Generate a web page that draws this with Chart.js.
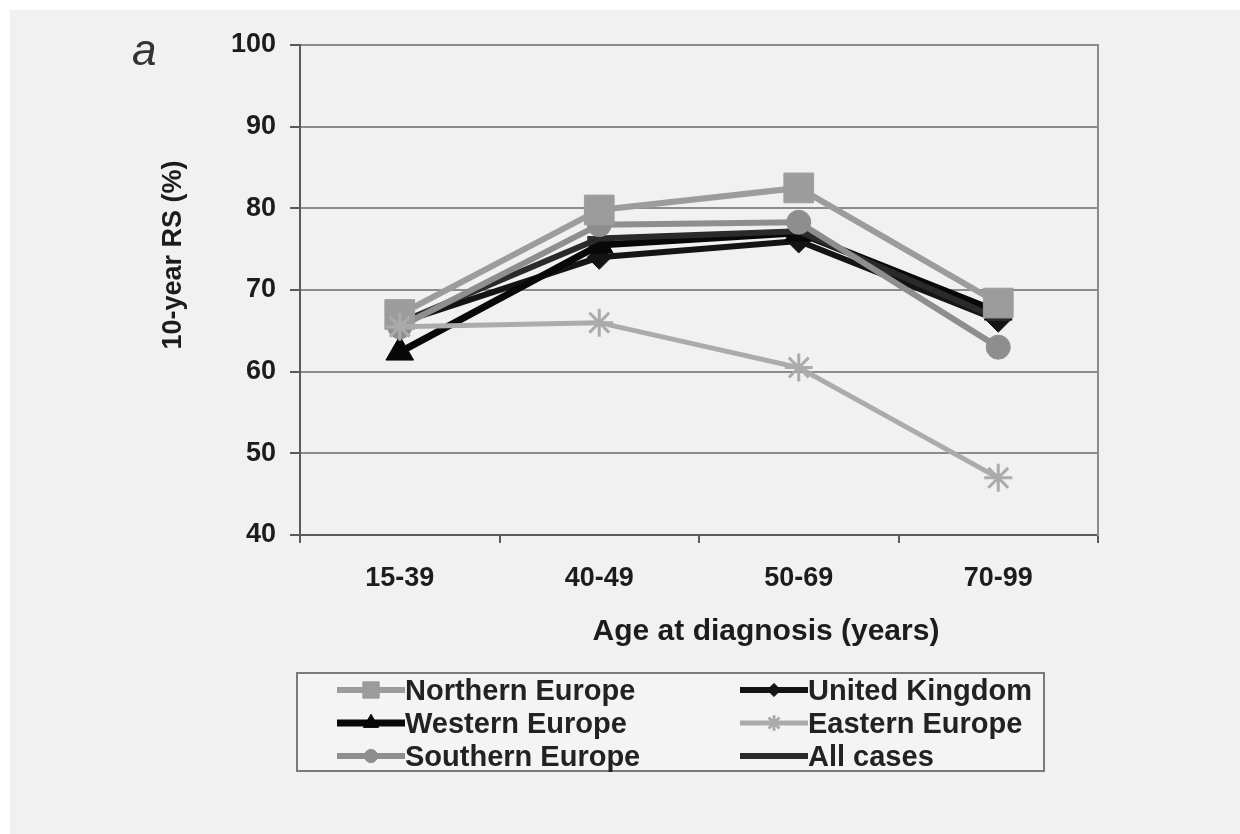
<!DOCTYPE html>
<html>
<head>
<meta charset="utf-8">
<script src="https://cdn.jsdelivr.net/npm/chart.js@4.4.1/dist/chart.umd.min.js"></script>
<style>
  body { margin:0; width:1240px; height:834px; overflow:hidden; position:relative; background:#fff;
         font-family:"Liberation Sans", Arial, sans-serif; }
  #panel { position:absolute; left:10px; top:10px; right:0; bottom:0; background:#f1f1f1; }
  #grafico { position:absolute; left:0; top:0; }
  .lbl { position:absolute; color:#1c1c1c; white-space:nowrap; }
  #panelA { left:132px; top:28px; font-size:44px; font-style:italic; line-height:44px; color:#333; }
  #ytitle { left:22px; top:238px; width:300px; height:34px; line-height:34px; text-align:center;
            font-size:27px; font-weight:bold; transform:rotate(-90deg); }
  #xtitle { left:466px; top:612px; width:600px; height:36px; line-height:36px; text-align:center;
            font-size:30px; font-weight:bold; }
  #legend { position:absolute; left:296px; top:672px; width:749px; height:100px; box-sizing:border-box;
            border:2px solid #7a7a7a; background:#f4f4f4; }
  .item { position:absolute; height:32px; }
  .item canvas { position:absolute; left:0; top:0; }
  .item span { position:absolute; left:70px; top:0; line-height:32px; font-size:29px; font-weight:bold; color:#222; white-space:nowrap; }
</style>
</head>
<body>
<div id="panel"></div>
<canvas id="grafico" width="1240" height="660"></canvas>
<div class="lbl" id="panelA">a</div>
<div class="lbl" id="ytitle">10-year RS (%)</div>
<div class="lbl" id="xtitle">Age at diagnosis (years)</div>
<div id="legend"></div>
<script>
// data
const ageGroups = ['15-39', '40-49', '50-69', '70-99'];
const northernEurope = [67.0, 79.8, 82.5, 68.4];
const westernEurope  = [62.4, 75.5, 77.0, 67.3];
const southernEurope = [65.5, 78.0, 78.3, 63.0];
const unitedKingdom  = [66.0, 74.0, 76.0, 66.3];
const easternEurope  = [65.5, 66.0, 60.5, 47.0];
const allCases       = [66.0, 76.3, 77.2, 66.5];
const yTicks = [40, 50, 60, 70, 80, 90, 100];

const tickFont = { family: '"Liberation Sans", Arial, sans-serif', size: 27, weight: 'bold' };

function serie(label, data, color, lineW, style, radius, bw) {
  return {
    label, data,
    borderColor: color, backgroundColor: color,
    borderWidth: lineW, tension: 0,
    pointStyle: style, pointRadius: radius,
    pointBackgroundColor: color, pointBorderColor: color, pointBorderWidth: bw
  };
}

// drawing order: grey ones under, black ones on top
const datasets = [
  serie('Eastern Europe', easternEurope, '#ababab', 5, 'star', 14, 3),
  serie('Northern Europe', northernEurope, '#9c9c9c', 6, 'rect', 21, 1),
  serie('Southern Europe', southernEurope, '#8e8e8e', 6, 'circle', 12, 1),
  serie('All cases', allCases, '#2a2a2a', 6, 'line', 12, 5),
  serie('Western Europe', westernEurope, '#080808', 7, 'triangle', 16, 1),
  serie('United Kingdom', unitedKingdom, '#141414', 6, 'rectRot', 12, 1)
];

const config = {
  type: 'line',
  data: { labels: ageGroups, datasets },
  options: {
    responsive: false,
    animation: false,
    layout: { padding: { top: 45, left: 0, right: 0, bottom: 0 } },
    plugins: { legend: { display: false }, tooltip: { enabled: false } },
    scales: {
      x: {
        offset: true,
        grid: { drawOnChartArea: false, offset: true, tickLength: 8, color: '#5a5a5a', lineWidth: 2 },
        border: { color: '#5a5a5a', width: 2 },
        ticks: { color: '#1c1c1c', font: tickFont, padding: 19, maxRotation: 0 },
        afterFit: s => { s.height = 125; }
      },
      y: {
        min: 40, max: 100,
        afterBuildTicks: s => { s.ticks = yTicks.map(v => ({ value: v })); },
        grid: { color: '#8c8c8c', lineWidth: 2, tickLength: 10, tickColor: '#5a5a5a' },
        border: { color: '#5a5a5a', width: 2 },
        ticks: { color: '#1c1c1c', font: tickFont, padding: 14 },
        afterFit: s => { s.width = 300; }
      },
      y2: {
        position: 'right', display: true, min: 40, max: 100,
        grid: { display: false },
        ticks: { display: false },
        border: { color: '#8c8c8c', width: 2 },
        afterFit: s => { s.width = 142; }
      }
    }
  }
};

const myChart = new Chart(document.getElementById('grafico'), config);

// legend, two columns like the original
const legendOrder = ['Northern Europe', 'United Kingdom', 'Western Europe', 'Eastern Europe', 'Southern Europe', 'All cases'];
const legendBox = document.getElementById('legend');
legendOrder.forEach((name, i) => {
  const ds = datasets.find(d => d.label === name);
  const col = i % 2, row = Math.floor(i / 2);
  const item = document.createElement('div');
  item.className = 'item';
  item.style.left = (col === 0 ? 37 : 440) + 'px';
  item.style.top = (row * 33 + 0) + 'px';
  const c = document.createElement('canvas');
  c.width = 72; c.height = 32;
  const ctx = c.getContext('2d');
  ctx.strokeStyle = ds.borderColor;
  ctx.lineWidth = ds.borderWidth;
  ctx.beginPath(); ctx.moveTo(2, 16); ctx.lineTo(70, 16); ctx.stroke();
  ctx.fillStyle = ds.pointBackgroundColor;
  ctx.strokeStyle = ds.pointBorderColor;
  ctx.lineWidth = ds.pointBorderWidth;
  if (Chart.helpers && Chart.helpers.drawPoint) {
    Chart.helpers.drawPoint(ctx, { pointStyle: ds.pointStyle, radius: ds.pointRadius * 0.55, borderWidth: ds.pointBorderWidth, rotation: 0 }, 36, 16);
  }
  const t = document.createElement('span');
  t.textContent = name;
  item.appendChild(c); item.appendChild(t);
  legendBox.appendChild(item);
});
</script>
</body>
</html>
